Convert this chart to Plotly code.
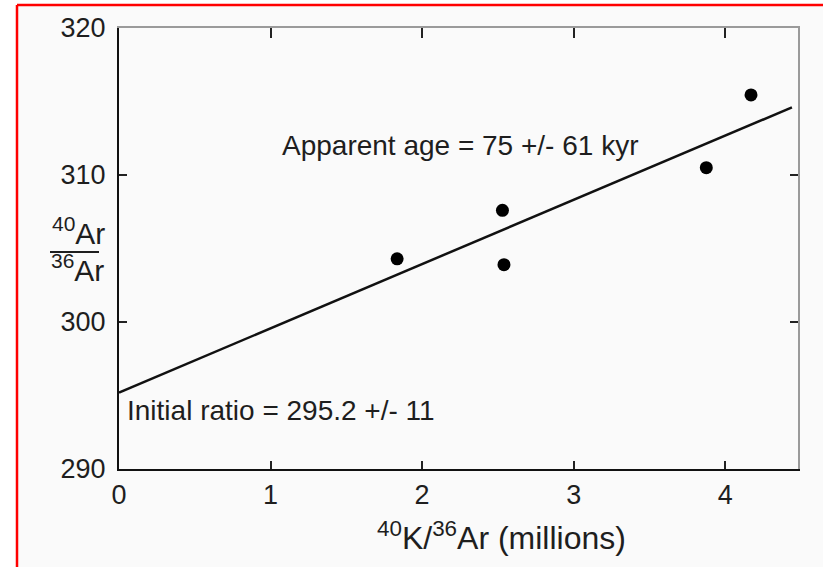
import plotly.graph_objects as go

# Isochron data: 40K/36Ar (millions) vs 40Ar/36Ar
k_ar = [1.835, 2.53, 2.54, 3.875, 4.17]
ar_ratio = [304.3, 307.6, 303.9, 310.5, 315.45]

# Fitted isochron: intercept = initial ratio, slope per million
initial_ratio = 295.2
slope = 4.37
fit_x = [0.0, 4.44]
fit_y = [initial_ratio + slope * x for x in fit_x]

x_ticks = [0, 1, 2, 3, 4]
y_ticks = [290, 300, 310, 320]
x_range = [0, 4.48]
y_range = [290, 320]

W, H = 823, 567
L, R, T, B = 119, 798, 28, 469
FONT = "Liberation Sans, Arial, sans-serif"
INK = "#1e1e1e"


def px(x):
    return (x - L) / (R - L)


def py(y):
    return (B - y) / (B - T)


def label(x, y, text, size):
    fig.add_annotation(xref="paper", yref="paper", x=px(x), y=py(y),
                       xanchor="center", yanchor="middle",
                       text=text, showarrow=False,
                       font=dict(size=size, family=FONT, color=INK))


fig = go.Figure()
fig.add_trace(go.Scatter(x=fit_x, y=fit_y, mode="lines",
                         line=dict(color="#111111", width=2.5),
                         hoverinfo="skip", showlegend=False))
fig.add_trace(go.Scatter(x=k_ar, y=ar_ratio, mode="markers",
                         marker=dict(color="#000000", size=13),
                         showlegend=False))
# empty trace so the mirrored top/right axes are drawn
fig.add_trace(go.Scatter(x=[None], y=[None], xaxis="x2", yaxis="y2",
                         showlegend=False, hoverinfo="skip"))

common = dict(showgrid=False, zeroline=False, ticks="inside",
              tickcolor="#222222", tickwidth=1.5)

fig.update_layout(
    width=W, height=H, autosize=False,
    margin=dict(l=L, r=W - R, t=T, b=H - B),
    paper_bgcolor="white", plot_bgcolor="rgba(0,0,0,0)",
    showlegend=False,
    font=dict(family=FONT, color=INK),
    xaxis=dict(range=x_range, tickvals=x_ticks, ticklen=8,
               showline=True, linecolor="#111111", linewidth=2,
               tickfont=dict(size=27, family=FONT, color=INK),
               ticklabelstandoff=1, **common),
    yaxis=dict(range=y_range, tickvals=y_ticks, ticklen=8,
               showline=True, linecolor="#111111", linewidth=2,
               tickfont=dict(size=27, family=FONT, color=INK),
               ticklabelstandoff=6, **common),
    xaxis2=dict(range=x_range, tickvals=x_ticks[1:], ticklen=10,
                overlaying="x", side="top", anchor="y",
                showticklabels=False, showline=True,
                linecolor="#9a9a9a", linewidth=1.5, **common),
    yaxis2=dict(range=y_range, tickvals=y_ticks[1:-1], ticklen=8,
                overlaying="y", side="right", anchor="x",
                showticklabels=False, showline=True,
                linecolor="#9a9a9a", linewidth=1.5, **common),
)

# page frame: light panel with red edge on the left and top
fig.add_shape(type="rect", xref="paper", yref="paper",
              x0=px(17), x1=px(W), y0=py(H), y1=py(5),
              fillcolor="#fafafa", line=dict(width=0), layer="below")
fig.add_shape(type="line", xref="paper", yref="paper",
              x0=px(17), x1=px(W), y0=py(5), y1=py(5),
              line=dict(color="#ff0000", width=2.5))
fig.add_shape(type="line", xref="paper", yref="paper",
              x0=px(17), x1=px(17), y0=py(5), y1=py(H),
              line=dict(color="#ff0000", width=2.5))

# y-axis title drawn as a stacked fraction
label(78, 231, "<sup>40</sup>Ar", 30)
fig.add_shape(type="line", xref="paper", yref="paper",
              x0=px(50), x1=px(99), y0=py(252), y1=py(252),
              line=dict(color=INK, width=2))
label(77, 268, "<sup>36</sup>Ar", 30)

# x-axis title
label(501, 536, "<sup>40</sup>K/<sup>36</sup>Ar (millions)", 32)

# fit annotations
label(460, 145, "Apparent age = 75 +/- 61 kyr", 28)
label(281, 410, f"Initial ratio = {initial_ratio} +/- 11", 28)

fig.write_html("out.html")
